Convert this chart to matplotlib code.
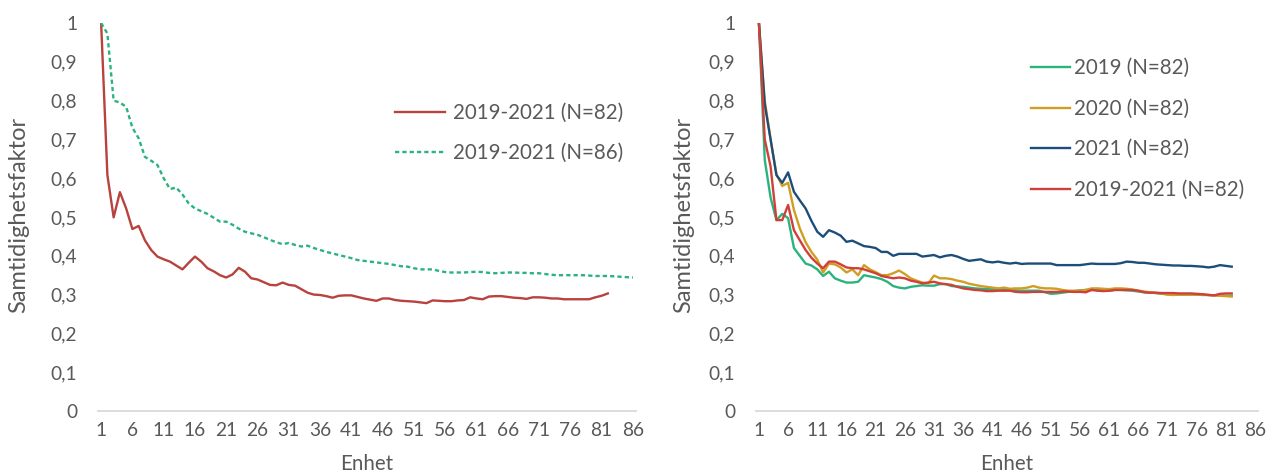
# Samtidighetsfaktor per enhet, two panels
import numpy as np
import matplotlib
matplotlib.use('Agg')
import matplotlib.pyplot as plt

plt.rcParams['font.family'] = ['Lato', 'DejaVu Sans']

# left panel
red_all_82 = [1.0, 0.608, 0.499, 0.564, 0.522, 0.469, 0.477, 0.44, 0.415, 0.398,
              0.391, 0.385, 0.375, 0.365, 0.382, 0.398, 0.385, 0.368, 0.36, 0.35,
              0.344, 0.352, 0.369, 0.359, 0.342, 0.339, 0.332, 0.325, 0.324, 0.331,
              0.325, 0.323, 0.314, 0.305, 0.3, 0.299, 0.296, 0.292, 0.297, 0.298,
              0.298, 0.294, 0.29, 0.287, 0.284, 0.29, 0.29, 0.286, 0.284, 0.283,
              0.282, 0.28, 0.278, 0.285, 0.284, 0.283, 0.283, 0.285, 0.286, 0.293,
              0.29, 0.288, 0.295, 0.296, 0.296, 0.294, 0.292, 0.291, 0.289, 0.293,
              0.293, 0.292, 0.29, 0.29, 0.288, 0.288, 0.288, 0.288, 0.288, 0.293,
              0.297, 0.303]
green_all_86 = [1.0, 0.973, 0.8, 0.795, 0.784, 0.73, 0.703, 0.655, 0.645, 0.634,
                0.6, 0.572, 0.576, 0.558, 0.535, 0.522, 0.515, 0.508, 0.498, 0.488,
                0.488, 0.48, 0.47, 0.462, 0.458, 0.454, 0.448, 0.441, 0.435, 0.43,
                0.433, 0.428, 0.424, 0.426, 0.42, 0.415, 0.41, 0.406, 0.402, 0.398,
                0.394, 0.389, 0.387, 0.385, 0.383, 0.381, 0.379, 0.376, 0.373, 0.372,
                0.368, 0.365, 0.365, 0.365, 0.361, 0.358, 0.357, 0.357, 0.357, 0.358,
                0.359, 0.358, 0.356, 0.355, 0.356, 0.357, 0.357, 0.356, 0.356, 0.355,
                0.355, 0.353, 0.351, 0.35, 0.35, 0.35, 0.35, 0.35, 0.349, 0.348,
                0.348, 0.348, 0.347, 0.346, 0.345, 0.344]

# right panel
y2019 = [1.0, 0.647, 0.55, 0.492, 0.508, 0.497, 0.42, 0.4, 0.38, 0.375,
         0.365, 0.348, 0.359, 0.342, 0.336, 0.331, 0.331, 0.333, 0.35, 0.347,
         0.344, 0.34, 0.333, 0.322, 0.318, 0.316, 0.32, 0.322, 0.324, 0.323,
         0.323, 0.327, 0.327, 0.322, 0.321, 0.32, 0.318, 0.316, 0.315, 0.314,
         0.314, 0.314, 0.315, 0.313, 0.311, 0.31, 0.31, 0.31, 0.31, 0.306,
         0.302, 0.303, 0.305, 0.307, 0.309, 0.311, 0.312, 0.312, 0.312, 0.311,
         0.31, 0.312, 0.312, 0.311, 0.31, 0.308, 0.306, 0.305, 0.304, 0.302,
         0.301, 0.3, 0.3, 0.3, 0.3, 0.3, 0.299, 0.299, 0.298, 0.298,
         0.297, 0.297]
y2020 = [1.0, 0.8, 0.7, 0.61, 0.58, 0.588, 0.518, 0.471, 0.435, 0.41,
         0.39, 0.357, 0.38, 0.378, 0.37, 0.357, 0.365, 0.35, 0.376, 0.365,
         0.358, 0.35, 0.35, 0.355, 0.362, 0.353, 0.342, 0.336, 0.331, 0.329,
         0.349, 0.342, 0.342, 0.34, 0.336, 0.333, 0.328, 0.325, 0.322, 0.32,
         0.318, 0.316, 0.318, 0.315, 0.316, 0.316, 0.318, 0.322, 0.318, 0.316,
         0.316, 0.315, 0.312, 0.31, 0.31, 0.31, 0.312, 0.316, 0.316, 0.315,
         0.314, 0.316, 0.316, 0.315, 0.313, 0.31, 0.308, 0.306, 0.304, 0.303,
         0.3, 0.299, 0.3, 0.3, 0.3, 0.3, 0.3, 0.299, 0.298, 0.297,
         0.296, 0.295]
y2021 = [1.0, 0.79, 0.7, 0.608, 0.588, 0.615, 0.565, 0.543, 0.522, 0.49,
         0.462, 0.449, 0.466, 0.46, 0.452, 0.436, 0.439, 0.432, 0.425, 0.423,
         0.42, 0.41, 0.41, 0.4, 0.405, 0.405, 0.405, 0.405, 0.398, 0.4,
         0.402, 0.396, 0.4, 0.402, 0.398, 0.392, 0.387, 0.389, 0.391, 0.385,
         0.383, 0.385, 0.382, 0.38, 0.382, 0.379, 0.38, 0.38, 0.38, 0.38,
         0.38, 0.376, 0.376, 0.376, 0.376, 0.376, 0.378, 0.38, 0.379, 0.379,
         0.379, 0.379, 0.381, 0.385, 0.384, 0.382, 0.382, 0.38, 0.378, 0.377,
         0.376, 0.375, 0.375, 0.374, 0.374, 0.373, 0.372, 0.37, 0.372, 0.376,
         0.374, 0.372]
y_all = [1.0, 0.7, 0.63, 0.492, 0.492, 0.531, 0.466, 0.44, 0.415, 0.395,
         0.38, 0.368, 0.385, 0.385, 0.378, 0.37, 0.368, 0.368, 0.365, 0.36,
         0.355, 0.348, 0.345, 0.342, 0.344, 0.342, 0.336, 0.333, 0.329, 0.331,
         0.333, 0.329, 0.327, 0.325, 0.32, 0.316, 0.314, 0.312, 0.311, 0.309,
         0.309, 0.31, 0.31, 0.31, 0.307, 0.306, 0.306, 0.307, 0.307, 0.307,
         0.307, 0.307, 0.308, 0.308, 0.307, 0.307, 0.306, 0.312, 0.31, 0.309,
         0.31, 0.312, 0.312, 0.312, 0.312, 0.31, 0.306, 0.305, 0.305, 0.304,
         0.304, 0.304, 0.303, 0.303, 0.303, 0.302, 0.301, 0.299, 0.298, 0.302,
         0.303, 0.303]

n_units = 86
xticks = list(range(1, n_units + 1, 5))
yticks = [0, 0.1, 0.2, 0.3, 0.4, 0.5, 0.6, 0.7, 0.8, 0.9, 1]
ytick_labels = ['0', '0,1', '0,2', '0,3', '0,4', '0,5', '0,6', '0,7', '0,8', '0,9', '1']

TXT = '#595959'
FS = 13.8
FS_LEG = 14.8


def style_axis(ax):
    ax.set_xlim(0.5, n_units + 0.5)
    ax.set_ylim(0, 1)
    ax.set_xticks(xticks)
    ax.set_yticks(yticks)
    ax.set_yticklabels(ytick_labels)
    for s in ['top', 'right', 'left']:
        ax.spines[s].set_visible(False)
    ax.spines['bottom'].set_color('#D9D9D9')
    ax.spines['bottom'].set_linewidth(1.3)
    ax.tick_params(axis='both', length=0, labelsize=FS, colors=TXT)
    ax.tick_params(axis='y', pad=15)
    ax.tick_params(axis='x', pad=8)
    ax.set_ylabel('Samtidighetsfaktor', fontsize=17, color=TXT)
    ax.set_xlabel('Enhet', fontsize=14.8, color=TXT)
    ax.xaxis.set_label_coords(0.5, -0.112)


fig = plt.figure(figsize=(12.74, 4.75), dpi=100)
ax1 = fig.add_axes([98 / 1274, 1 - 411 / 475, 538 / 1274, 388 / 475])
ax2 = fig.add_axes([756 / 1274, 1 - 411 / 475, 502 / 1274, 388 / 475])

x82 = np.arange(1, len(red_all_82) + 1)
x86 = np.arange(1, len(green_all_86) + 1)
ax1.plot(x82, red_all_82, color='#B8423E', lw=1.7, label='2019-2021 (N=82)')
ax1.plot(x86, green_all_86, color='#2BB37E', lw=1.7, ls=(0, (1.8, 1.3)),
         label='2019-2021 (N=86)')
style_axis(ax1)
ax1.yaxis.set_label_coords(-0.127, 0.505)
ax1.legend(loc='center left', bbox_to_anchor=(395 / 1274, 1 - 133 / 475),
           bbox_transform=fig.transFigure, frameon=False, fontsize=FS_LEG,
           labelcolor=TXT, handlelength=2.45, handletextpad=0.35,
           labelspacing=1.0, borderpad=0, borderaxespad=0)

xr = np.arange(1, len(y2019) + 1)
ax2.plot(xr, y2019, color='#2BB37E', lw=1.7, label='2019 (N=82)')
ax2.plot(xr, y2020, color='#CF9E22', lw=1.7, label='2020 (N=82)')
ax2.plot(xr, y2021, color='#1D4E7A', lw=1.7, label='2021 (N=82)')
ax2.plot(xr, y_all, color='#D0403A', lw=1.7, label='2019-2021 (N=82)')
style_axis(ax2)
ax2.yaxis.set_label_coords(-0.124, 0.505)
ax2.legend(loc='center left', bbox_to_anchor=(1031 / 1274, 1 - 129 / 475),
           bbox_transform=fig.transFigure, frameon=False, fontsize=FS_LEG,
           labelcolor=TXT, handlelength=1.9, handletextpad=0.2,
           labelspacing=1.0, borderpad=0, borderaxespad=0)

fig.savefig('out.png', dpi=100)
